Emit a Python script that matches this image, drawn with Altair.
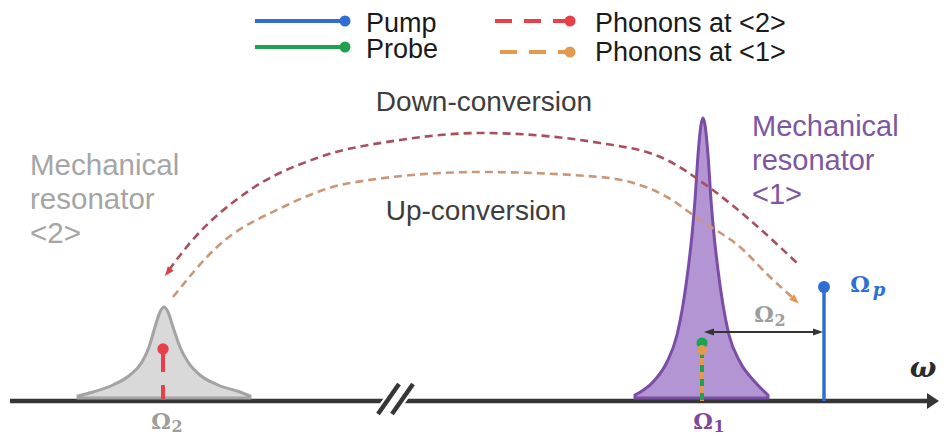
import altair as alt
import pandas as pd

# ---------------- values (frequency / amplitude in picture units) ----------------
AXIS_Y = 401          # frequency axis level
BASE_Y = 398          # foot of the resonance curves

# Mechanical resonator <2> (grey resonance) outline
res2_x = [78, 93, 113, 130, 142, 149, 155, 160, 164, 168, 173, 180, 188, 200, 218, 240, 250]
res2_y = [396, 392, 385, 375, 362, 347, 327, 312, 307, 312, 327, 347, 362, 375, 385, 392, 396]

# Mechanical resonator <1> (purple resonance) outline
res1_x = [635, 653, 667, 677, 683, 688, 692, 695, 698, 701, 703, 705, 708, 711, 714, 718, 723, 729, 740, 755, 768]
res1_y = [395, 382, 362, 335, 305, 270, 235, 200, 155, 125, 118, 125, 155, 200, 235, 270, 305, 335, 362, 382, 395]

# Down-conversion arc (from <1> to <2>)
down_x = [169, 190, 250, 317, 400, 480, 600, 667, 710, 750, 780, 797]
down_y = [270, 243, 190, 158, 140, 133, 143, 160, 188, 220, 247, 263]

# Up-conversion arc (from <2> to <1>)
up_x = [173, 217, 283, 350, 480, 600, 667, 700, 740, 770, 793]
up_y = [297, 247, 207, 183, 172, 177, 197, 220, 247, 277, 298]

# Spectral lines: frequency position and height
line_names = ["Pump", "Probe", "Phonons at <2>", "Phonons at <1>"]
line_freq = [824, 702, 163, 702]
line_top = [287, 343, 349, 350]
line_colors = ["#2f6fd4", "#1fa24f", "#e8404a", "#e4994f"]

# Legend
legend_x0 = [255, 255, 495, 500]
legend_x1 = [345, 345, 570, 570]
legend_y = [21, 47, 21, 52]
legend_text_x = [366, 366, 595, 595]
legend_text_y = [24, 50, 24, 53]

# ---------------- scales ----------------
XS = alt.Scale(domain=[8, 939], nice=False, zero=False)
YS = alt.Scale(domain=[8, 437], nice=False, zero=False, reverse=True)


def X(f="x"):
    return alt.X(f + ":Q", scale=XS, axis=None)


def Y(f="y"):
    return alt.Y(f + ":Q", scale=YS, axis=None)


def df(**kw):
    return pd.DataFrame(kw)


layers = []

# frequency axis
layers.append(alt.Chart(df(x=[10], x2=[930], y=[AXIS_Y])).mark_rule(
    color="#363636", strokeWidth=4.5).encode(x=X(), x2="x2:Q", y=Y()))
layers.append(alt.Chart(df(x=[933], y=[AXIS_Y])).mark_point(
    shape="M-0.75,-1L0.75,0L-0.75,1Z", size=256, filled=True, opacity=1,
    color="#363636").encode(x=X(), y=Y()))
# axis break
layers.append(alt.Chart(df(x=[386], x2=[405], y=[AXIS_Y])).mark_rule(
    color="white", strokeWidth=8).encode(x=X(), x2="x2:Q", y=Y()))
brk = df(x=[378, 392], x2=[399, 413], y=[414, 414], y2=[384, 384])
layers.append(alt.Chart(brk).mark_rule(color="white", strokeWidth=9).encode(
    x=X(), x2="x2:Q", y=Y(), y2="y2:Q"))
layers.append(alt.Chart(brk).mark_rule(color="#363636", strokeWidth=4.5).encode(
    x=X(), x2="x2:Q", y=Y(), y2="y2:Q"))

# resonator <2>
r2 = df(x=res2_x, y=res2_y, y2=[BASE_Y] * len(res2_x))
layers.append(alt.Chart(r2).mark_area(
    interpolate="monotone", color="#d9d9d9", fillOpacity=1,
    stroke="#a3a3a3", strokeWidth=3).encode(x=X(), y=Y(), y2="y2:Q"))

# phonons at <2> stem
i = 2
layers.append(alt.Chart(df(x=[line_freq[i]], y=[line_top[i]], y2=[AXIS_Y - 1])).mark_rule(
    color=line_colors[i], strokeWidth=4, strokeDash=[23, 13]).encode(x=X(), y=Y(), y2="y2:Q"))
layers.append(alt.Chart(df(x=[line_freq[i]], y=[line_top[i]])).mark_point(
    shape="circle", size=130, filled=True, opacity=1, color=line_colors[i]).encode(x=X(), y=Y()))

# resonator <1>
r1 = df(x=res1_x, y=res1_y, y2=[BASE_Y] * len(res1_x))
layers.append(alt.Chart(r1).mark_area(
    interpolate="monotone", color="#b395d3", fillOpacity=1,
    stroke="#7a4ea6", strokeWidth=3).encode(x=X(), y=Y(), y2="y2:Q"))

# conversion arcs
layers.append(alt.Chart(df(x=down_x, y=down_y)).mark_line(
    interpolate="monotone", color="#a8505e", strokeWidth=2.6, strokeDash=[8, 5]).encode(
    x=X(), y=Y(), order="x:Q"))
layers.append(alt.Chart(df(x=up_x, y=up_y)).mark_line(
    interpolate="monotone", color="#c9987a", strokeWidth=2.6, strokeDash=[8, 5]).encode(
    x=X(), y=Y(), order="x:Q"))
arrow_path = "M0,-1L0.75,0.9L-0.75,0.9Z"
layers.append(alt.Chart(df(x=[down_x[0] - 1], y=[down_y[0] + 2])).mark_point(
    shape=arrow_path, size=100, angle=218, filled=True, opacity=1, color="#dd4048").encode(
    x=X(), y=Y()))
layers.append(alt.Chart(df(x=[up_x[-1] + 2], y=[up_y[-1] + 2])).mark_point(
    shape=arrow_path, size=100, angle=133, filled=True, opacity=1, color="#e8944a").encode(
    x=X(), y=Y()))

# probe + phonons at <1> stem (interleaved dashes)
layers.append(alt.Chart(df(x=[line_freq[3]], y=[line_top[1] + 2], y2=[AXIS_Y])).mark_rule(
    color=line_colors[3], strokeWidth=4).encode(x=X(), y=Y(), y2="y2:Q"))
layers.append(alt.Chart(df(x=[line_freq[1]], y=[line_top[1] + 8], y2=[AXIS_Y])).mark_rule(
    color=line_colors[1], strokeWidth=4, strokeDash=[7, 7]).encode(x=X(), y=Y(), y2="y2:Q"))
layers.append(alt.Chart(df(x=[line_freq[1]], y=[line_top[1]])).mark_point(
    shape="circle", size=121, filled=True, opacity=1, color=line_colors[1]).encode(x=X(), y=Y()))
layers.append(alt.Chart(df(x=[line_freq[3]], y=[line_top[3]])).mark_point(
    shape="circle", size=100, filled=True, opacity=1, color=line_colors[3]).encode(x=X(), y=Y()))

# pump
i = 0
layers.append(alt.Chart(df(x=[line_freq[i]], y=[line_top[i]], y2=[AXIS_Y])).mark_rule(
    color=line_colors[i], strokeWidth=3.5).encode(x=X(), y=Y(), y2="y2:Q"))
layers.append(alt.Chart(df(x=[line_freq[i]], y=[line_top[i]])).mark_point(
    shape="circle", size=144, filled=True, opacity=1, color=line_colors[i]).encode(x=X(), y=Y()))

# Omega_2 spacing double arrow
layers.append(alt.Chart(df(x=[line_freq[1] + 6], x2=[line_freq[0] - 5], y=[332])).mark_rule(
    color="#333333", strokeWidth=2).encode(x=X(), x2="x2:Q", y=Y()))
layers.append(alt.Chart(df(x=[line_freq[1] + 7], y=[332])).mark_point(
    shape="M-1,0L1,-0.7L1,0.7Z", size=100, filled=True, opacity=1, color="#333333").encode(
    x=X(), y=Y()))
layers.append(alt.Chart(df(x=[line_freq[0] - 6], y=[332])).mark_point(
    shape="M1,0L-1,-0.7L-1,0.7Z", size=100, filled=True, opacity=1, color="#333333").encode(
    x=X(), y=Y()))

# legend
for k in range(4):
    dash = [17, 12] if k >= 2 else [1, 0]
    layers.append(alt.Chart(df(x=[legend_x0[k]], x2=[legend_x1[k]], y=[legend_y[k]])).mark_rule(
        color=line_colors[k], strokeWidth=4, strokeDash=dash).encode(x=X(), x2="x2:Q", y=Y()))
    layers.append(alt.Chart(df(x=[legend_x1[k]], y=[legend_y[k]])).mark_point(
        shape="circle", size=121, filled=True, opacity=1, color=line_colors[k]).encode(x=X(), y=Y()))
layers.append(alt.Chart(df(x=legend_text_x, y=legend_text_y, t=line_names)).mark_text(
    align="left", baseline="middle", font="Liberation Sans", fontSize=27, color="#1a1a1a").encode(
    x=X(), y=Y(), text="t:N"))

# text annotations
sans = dict(font="Liberation Sans", baseline="middle")
layers.append(alt.Chart(df(x=[30, 30, 30], y=[166, 200, 234],
                           t=["Mechanical", "resonator", "<2>"])).mark_text(
    align="left", color="#a5a5a5", fontSize=29.5, **sans).encode(x=X(), y=Y(), text="t:N"))
layers.append(alt.Chart(df(x=[752, 752, 752], y=[127, 161, 195],
                           t=["Mechanical", "resonator", "<1>"])).mark_text(
    align="left", color="#7d57a3", fontSize=29, **sans).encode(x=X(), y=Y(), text="t:N"))
layers.append(alt.Chart(df(x=[484, 476], y=[103, 212],
                           t=["Down-conversion", "Up-conversion"])).mark_text(
    align="center", color="#3d3d3d", fontSize=28, **sans).encode(x=X(), y=Y(), text="t:N"))

# Omega labels
om = df(x=[161, 703, 764, 860], y=[422, 422, 315, 285],
        c=["#9d9d9d", "#7b4a9c", "#9d9d9d", "#2f6fd4"])
layers.append(alt.Chart(om).mark_text(
    align="center", baseline="middle", font="DejaVu Serif", fontWeight="bold", fontSize=22).encode(
    x=X(), y=Y(), text=alt.value("Ω"), color=alt.Color("c:N", scale=None)))
sub = df(x=[177, 719, 780], y=[427, 427, 321], t=["2", "1", "2"],
         c=["#9d9d9d", "#7b4a9c", "#9d9d9d"])
layers.append(alt.Chart(sub).mark_text(
    align="center", baseline="middle", font="DejaVu Serif", fontWeight="bold", fontSize=16).encode(
    x=X(), y=Y(), text="t:N", color=alt.Color("c:N", scale=None)))
layers.append(alt.Chart(df(x=[879], y=[291])).mark_text(
    align="center", baseline="middle", font="DejaVu Serif", fontWeight="bold", fontStyle="italic",
    fontSize=18, color="#2f6fd4").encode(x=X(), y=Y(), text=alt.value("p")))
layers.append(alt.Chart(df(x=[923], y=[369])).mark_text(
    align="center", baseline="middle", font="DejaVu Serif", fontWeight="bold", fontStyle="italic",
    fontSize=28, color="#2b2b2b").encode(x=X(), y=Y(), text=alt.value("ω")))

chart = alt.layer(*layers).properties(
    width=931, height=429, autosize="none",
    padding={"left": 0, "top": 0, "right": 0, "bottom": 0},
).configure_view(stroke=None)

chart.save("out.html", embed_options={"renderer": "svg", "actions": False})
